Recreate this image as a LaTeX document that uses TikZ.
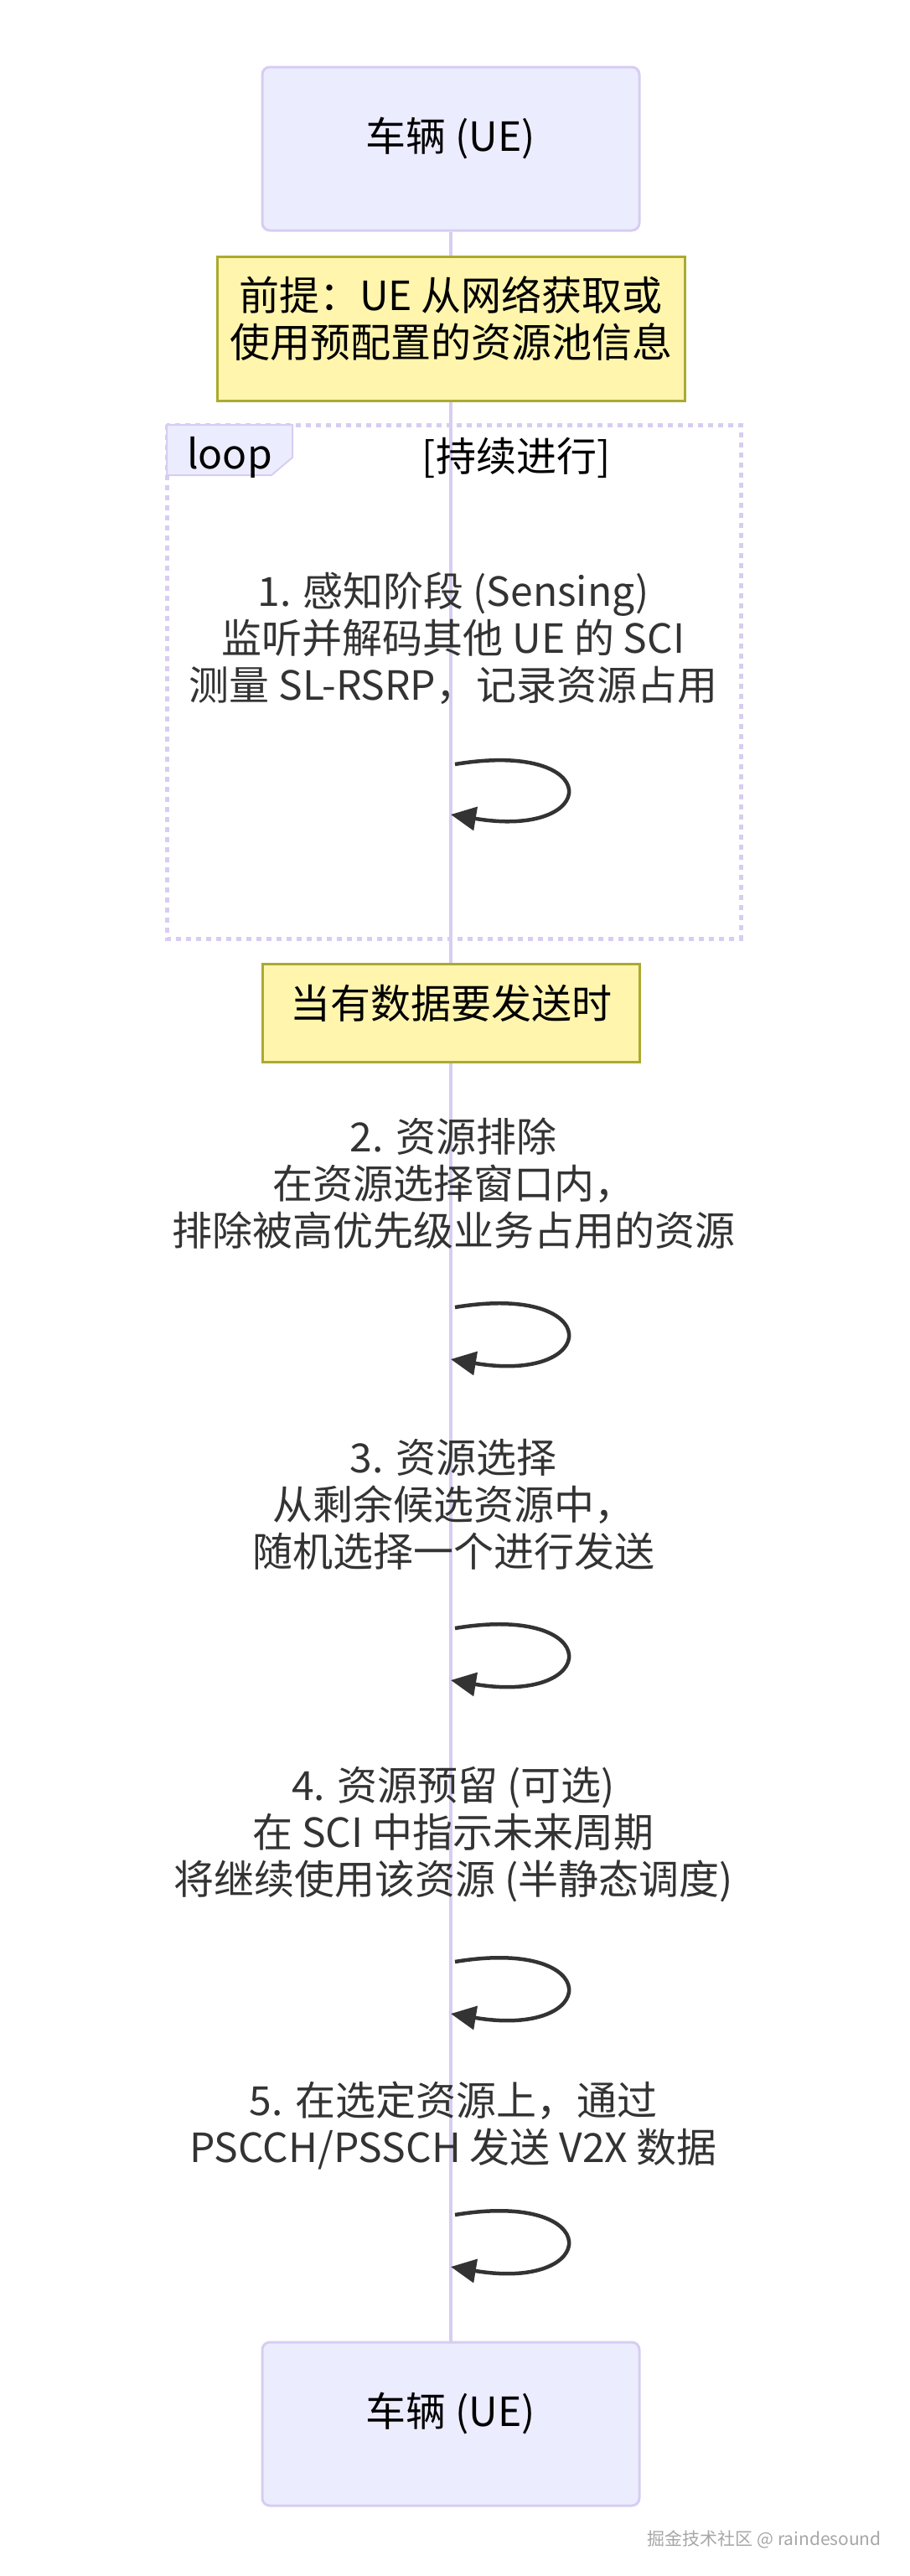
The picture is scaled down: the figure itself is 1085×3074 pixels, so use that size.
\documentclass[tikz,border=0pt]{standalone}
\usepackage{fontspec}
\setmainfont{Noto Sans CJK SC}
\usetikzlibrary{arrows.meta}

\definecolor{actorfill}{HTML}{ECECFF}
\definecolor{actorline}{HTML}{D7CDF2}
\definecolor{notefill}{HTML}{FFF5AD}
\definecolor{noteline}{HTML}{AAAA33}
\definecolor{msgcol}{HTML}{333333}

\tikzset{
  bigfont/.style={font=\fontsize{48}{56}\selectfont},
  actorbox/.style={draw=actorline, line width=3pt, fill=actorfill, rounded corners=9pt,
    minimum width=450pt, minimum height=195pt, inner sep=0pt},
  notebox/.style={draw=noteline, line width=3pt, fill=notefill, inner sep=0pt},
  msglabel/.style={bigfont, text=msgcol, align=center, inner sep=0pt},
  selfmsg/.style={draw=msgcol, line width=4.5pt, -{Triangle[length=30pt,width=28pt]}},
}

\begin{document}
\begin{tikzpicture}[x=1pt,y=-1pt]
    \useasboundingbox (0,0) rectangle (1085,3074);

    % loop frame
    \draw[actorline, line width=5pt, dash pattern=on 6pt off 6pt] (199,507) rectangle (884,1120);
    \draw[actorline, line width=2pt, fill=actorfill] (199,507) -- (349,507) -- (349,546) -- (324,567) -- (199,567) -- cycle;
    \node[bigfont, inner sep=0pt] (loopTag) at (274,546) {loop};

    % actors and lifeline
    \node[actorbox, label={[bigfont, yshift=13pt]center:{车辆 (UE)}}] (ueTop) at (538,177.5) {};
    \node[actorbox, label={[bigfont, yshift=13pt]center:{车辆 (UE)}}] (ueBot) at (538,2892.5) {};
    \draw[actorline, line width=4pt] (ueTop.south) -- (ueBot.north);
    \node[bigfont, inner sep=0pt] (loopCond) at (616,546) {[持续进行]};

    % notes
    \node[notebox, minimum width=558pt, minimum height=172pt,
          label={[bigfont, align=center, yshift=12pt]center:{前提：UE 从网络获取或\\使用预配置的资源池信息}}] (preNote) at (538,392) {};
    \node[notebox, minimum width=450pt, minimum height=117pt,
          label={[bigfont, yshift=11pt]center:{当有数据要发送时}}] (dataNote) at (538,1208.5) {};

    % self messages
    \node[msglabel] (msgSense) at (541,762) {1. 感知阶段 (Sensing)\\监听并解码其他 UE 的 SCI\\测量 SL-RSRP，记录资源占用};
    \coordinate (senseA) at (543,912);
    \coordinate (senseB) at (538,972);
    \draw[selfmsg] (senseA) .. controls +(180,-30) and +(180,30) .. (senseB);

    \node[msglabel] (msgExclude) at (541,1412) {2. 资源排除\\在资源选择窗口内，\\排除被高优先级业务占用的资源};
    \coordinate (excludeA) at (543,1560);
    \coordinate (excludeB) at (538,1622);
    \draw[selfmsg] (excludeA) .. controls +(180,-30) and +(180,30) .. (excludeB);

    \node[msglabel] (msgSelect) at (541,1795) {3. 资源选择\\从剩余候选资源中，\\随机选择一个进行发送};
    \coordinate (selectA) at (543,1943);
    \coordinate (selectB) at (538,2005);
    \draw[selfmsg] (selectA) .. controls +(180,-30) and +(180,30) .. (selectB);

    \node[msglabel] (msgReserve) at (541,2189) {4. 资源预留 (可选)\\在 SCI 中指示未来周期\\将继续使用该资源 (半静态调度)};
    \coordinate (reserveA) at (543,2341);
    \coordinate (reserveB) at (538,2403);
    \draw[selfmsg] (reserveA) .. controls +(180,-30) and +(180,30) .. (reserveB);

    \node[msglabel] (msgSend) at (541,2536) {5. 在选定资源上，通过\\PSCCH/PSSCH 发送 V2X 数据};
    \coordinate (sendA) at (543,2643);
    \coordinate (sendB) at (538,2705);
    \draw[selfmsg] (sendA) .. controls +(180,-30) and +(180,30) .. (sendB);

    % watermark
    \node[anchor=east, font=\fontsize{21}{24}\selectfont, text=gray!70, inner sep=0pt] (mark) at (1052,3030) {掘金技术社区 @ raindesound};
\end{tikzpicture}
\end{document}
